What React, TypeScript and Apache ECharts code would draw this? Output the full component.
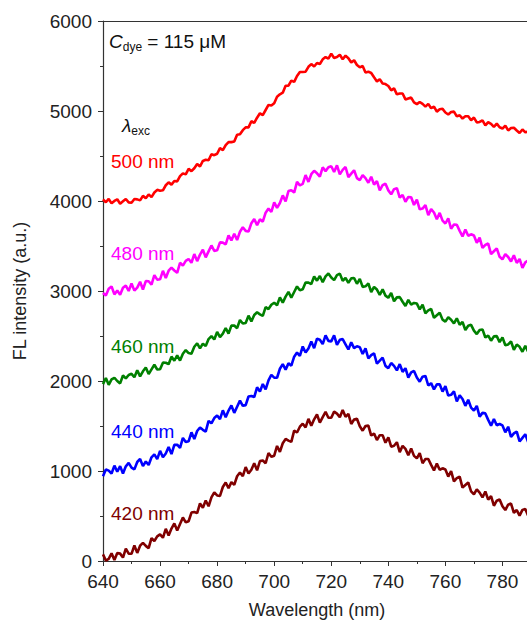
import React, { useEffect, useRef } from "react";
import * as echarts from "echarts";

const wavelengthStart = 640;
const xTicks = [640, 660, 680, 700, 720, 740, 760, 780];
const yTicks = [0, 1000, 2000, 3000, 4000, 5000, 6000];

const seriesNames = ["500 nm", "480 nm", "460 nm", "440 nm", "420 nm"];
const seriesColors = ["#ff0000", "#ff00ff", "#008000", "#0000ff", "#800000"];

const exc500 = [
  4018, 3986, 4023, 3974, 4001, 4019, 3970, 3996, 4022, 3985,
  3981, 4022, 4018, 4007, 4057, 4031, 4073, 4043, 4094, 4124,
  4114, 4119, 4175, 4207, 4182, 4223, 4218, 4276, 4307, 4296,
  4357, 4332, 4364, 4411, 4383, 4445, 4458, 4453, 4520, 4509,
  4525, 4588, 4564, 4621, 4654, 4654, 4661, 4737, 4741, 4787,
  4818, 4818, 4887, 4869, 4926, 4974, 4955, 5011, 5067, 5060,
  5086, 5158, 5185, 5203, 5281, 5281, 5338, 5323, 5389, 5434,
  5434, 5437, 5491, 5521, 5494, 5533, 5522, 5574, 5599, 5582,
  5637, 5590, 5600, 5625, 5575, 5615, 5586, 5539, 5564, 5511,
  5485, 5500, 5428, 5437, 5422, 5374, 5329, 5353, 5305, 5299,
  5278, 5230, 5251, 5185, 5194, 5194, 5129, 5139, 5149, 5096,
  5076, 5100, 5079, 5049, 5079, 5031, 5048, 4993, 5019, 5024,
  4984, 4961, 4989, 4993, 4940, 4953, 4916, 4942, 4941, 4898,
  4927, 4874, 4878, 4897, 4841, 4875, 4858, 4823, 4860, 4819,
  4805, 4838, 4784, 4811, 4814, 4784, 4755, 4795, 4763, 4773,
];

const exc480 = [
  2978, 2950, 3024, 3050, 2962, 3006, 2958, 3036, 3060, 3000,
  3084, 3004, 3038, 3102, 3016, 3110, 3108, 3070, 3176, 3126,
  3130, 3224, 3144, 3226, 3260, 3228, 3202, 3314, 3282, 3334,
  3356, 3314, 3410, 3332, 3404, 3458, 3374, 3440, 3506, 3446,
  3452, 3540, 3538, 3518, 3618, 3562, 3636, 3566, 3658, 3708,
  3668, 3660, 3754, 3800, 3732, 3796, 3770, 3870, 3916, 3878,
  3984, 3924, 3978, 4062, 3996, 4110, 4120, 4094, 4212, 4174,
  4190, 4288, 4212, 4298, 4336, 4308, 4272, 4374, 4332, 4374,
  4386, 4322, 4396, 4296, 4346, 4378, 4266, 4304, 4342, 4254,
  4232, 4288, 4254, 4202, 4270, 4182, 4222, 4118, 4176, 4192,
  4118, 4074, 4132, 4142, 4038, 4066, 3992, 4044, 4042, 3956,
  4014, 3908, 3916, 3954, 3842, 3910, 3872, 3798, 3868, 3782,
  3750, 3808, 3692, 3738, 3736, 3668, 3606, 3682, 3614, 3630,
  3616, 3536, 3594, 3478, 3512, 3528, 3410, 3442, 3474, 3380,
  3352, 3410, 3378, 3328, 3398, 3312, 3356, 3256, 3318, 3338,
];

const exc460 = [
  1965, 2034, 1958, 2017, 2036, 2000, 1973, 2061, 2029, 2067,
  2080, 2042, 2119, 2051, 2108, 2150, 2077, 2129, 2181, 2128,
  2130, 2204, 2203, 2187, 2271, 2225, 2286, 2227, 2303, 2344,
  2310, 2303, 2381, 2419, 2362, 2415, 2388, 2466, 2499, 2462,
  2545, 2488, 2526, 2589, 2527, 2615, 2616, 2587, 2678, 2639,
  2645, 2726, 2662, 2733, 2764, 2740, 2723, 2821, 2799, 2847,
  2870, 2842, 2929, 2871, 2938, 2990, 2927, 2989, 3051, 3008,
  3020, 3094, 3093, 3077, 3161, 3115, 3166, 3097, 3163, 3194,
  3150, 3121, 3177, 3193, 3114, 3145, 3090, 3140, 3145, 3080,
  3135, 3046, 3052, 3083, 2989, 3045, 3016, 2957, 3018, 2949,
  2925, 2978, 2886, 2929, 2932, 2880, 2833, 2901, 2849, 2867,
  2860, 2796, 2847, 2753, 2784, 2800, 2703, 2731, 2759, 2682,
  2660, 2708, 2681, 2639, 2697, 2625, 2656, 2567, 2613, 2624,
  2560, 2521, 2567, 2573, 2484, 2505, 2448, 2496, 2499, 2432,
  2485, 2398, 2406, 2439, 2347, 2405, 2380, 2325, 2390, 2325,
];

const exc440 = [
  942, 1018, 1004, 972, 1060, 992, 1054, 972, 1052, 1090,
  1038, 1018, 1100, 1134, 1054, 1106, 1066, 1152, 1184, 1132,
  1224, 1152, 1194, 1266, 1188, 1290, 1292, 1258, 1368, 1322,
  1330, 1430, 1356, 1444, 1484, 1458, 1438, 1556, 1530, 1588,
  1616, 1576, 1674, 1598, 1672, 1728, 1646, 1714, 1782, 1724,
  1732, 1828, 1834, 1822, 1930, 1882, 1966, 1906, 2008, 2068,
  2038, 2036, 2136, 2188, 2126, 2196, 2170, 2270, 2316, 2278,
  2384, 2316, 2362, 2438, 2364, 2470, 2458, 2410, 2506, 2446,
  2440, 2508, 2402, 2458, 2466, 2408, 2350, 2430, 2366, 2386,
  2376, 2300, 2362, 2250, 2288, 2308, 2192, 2226, 2260, 2168,
  2142, 2200, 2168, 2118, 2188, 2102, 2142, 2038, 2096, 2112,
  2038, 1992, 2048, 2056, 1950, 1976, 1906, 1962, 1964, 1882,
  1944, 1838, 1846, 1884, 1772, 1840, 1800, 1724, 1792, 1704,
  1670, 1724, 1604, 1646, 1640, 1568, 1504, 1578, 1508, 1522,
  1506, 1430, 1492, 1380, 1418, 1438, 1328, 1368, 1408, 1322,
];

const exc420 = [
  74, 5, 24, 86, 10, 90, 82, 38, 138, 82,
  80, 172, 90, 170, 202, 168, 142, 254, 222, 274,
  296, 258, 358, 284, 360, 418, 340, 412, 484, 430,
  442, 538, 544, 532, 640, 592, 672, 608, 706, 762,
  728, 724, 822, 872, 808, 876, 846, 942, 984, 942,
  1044, 972, 1014, 1086, 1008, 1110, 1116, 1086, 1200, 1158,
  1170, 1278, 1212, 1308, 1356, 1338, 1324, 1448, 1428, 1492,
  1526, 1484, 1580, 1502, 1574, 1628, 1538, 1598, 1658, 1592,
  1592, 1660, 1638, 1598, 1678, 1602, 1634, 1522, 1572, 1580,
  1498, 1448, 1500, 1504, 1394, 1416, 1344, 1398, 1398, 1314,
  1374, 1270, 1280, 1320, 1210, 1280, 1246, 1176, 1250, 1168,
  1140, 1200, 1086, 1134, 1134, 1068, 1006, 1082, 1014, 1030,
  1016, 938, 998, 884, 920, 938, 816, 844, 872, 774,
  742, 796, 760, 706, 772, 682, 720, 614, 670, 684,
  608, 566, 626, 638, 536, 566, 504, 568, 578, 504,
];

const allSeries = [exc500, exc480, exc460, exc440, exc420];

const FONT = "'Liberation Sans', Arial, Helvetica, sans-serif";

export default function App() {
  const ref = useRef<HTMLDivElement>(null);
  useEffect(() => {
    if (!ref.current) return;
    const chart = echarts.init(ref.current, null, { renderer: "svg" });
    const labelY = [162, 254, 347, 432, 514];
    chart.setOption({
      animation: false,
      backgroundColor: "#ffffff",
      textStyle: { fontFamily: FONT },
      grid: {
        left: 103,
        top: 21,
        width: 428,
        height: 540,
        containLabel: false,
        outerBoundsMode: "none",
      },
      xAxis: [
        {
          type: "value",
          min: 640,
          max: 790,
          interval: 20,
          name: "Wavelength (nm)",
          nameLocation: "middle",
          nameGap: 40,
          nameTextStyle: { fontSize: 18, color: "#222", fontFamily: FONT },
          axisLine: { show: true, lineStyle: { color: "#333", width: 1.2 } },
          axisTick: { show: true, inside: false, length: 5, lineStyle: { color: "#333" } },
          minorTick: { show: true, splitNumber: 2, length: 3, lineStyle: { color: "#333" } },
          splitLine: { show: false },
          axisLabel: {
            fontSize: 19,
            color: "#222",
            margin: 11,
            fontFamily: FONT,
            formatter: (v: number) => (xTicks.includes(v) ? String(v) : ""),
          },
        },
        {
          type: "value",
          position: "top",
          min: 640,
          max: 790,
          axisLine: { show: true, lineStyle: { color: "#333", width: 1.2 } },
          axisTick: { show: false },
          axisLabel: { show: false },
          splitLine: { show: false },
        },
      ],
      yAxis: {
        type: "value",
        min: 0,
        max: 6000,
        interval: 1000,
        name: "FL intensity (a.u.)",
        nameLocation: "middle",
        nameGap: 74,
        nameTextStyle: { fontSize: 18, color: "#222", fontFamily: FONT },
        axisLine: { show: true, lineStyle: { color: "#333", width: 1.2 } },
        axisTick: { show: true, inside: false, length: 5, lineStyle: { color: "#333" } },
        minorTick: { show: true, splitNumber: 2, length: 3, lineStyle: { color: "#333" } },
        splitLine: { show: false },
        axisLabel: {
          fontSize: 19,
          color: "#222",
          margin: 11,
          fontFamily: FONT,
          formatter: (v: number) => (yTicks.includes(v) ? String(v) : ""),
        },
      },
      series: allSeries.map((vals, i) => ({
        name: seriesNames[i],
        type: "line",
        showSymbol: false,
        symbol: "none",
        clip: true,
        lineStyle: { color: seriesColors[i], width: 2.6 },
        data: vals.map((v, j) => [wavelengthStart + j, v]),
      })),
      graphic: [
        {
          type: "text",
          left: 109,
          top: 32,
          style: {
            text: "{i|C}{sub|dye}{n| = 115 μM}",
            rich: {
              i: { fontSize: 19, fontStyle: "italic", fill: "#111", fontFamily: FONT },
              sub: { fontSize: 12, fill: "#111", fontFamily: FONT, padding: [10, 0, 0, 0] },
              n: { fontSize: 19, fill: "#111", fontFamily: FONT },
            },
          },
        },
        {
          type: "text",
          left: 122,
          top: 116,
          style: {
            text: "{i|λ}{sub|exc}",
            rich: {
              i: { fontSize: 19, fontStyle: "italic", fill: "#111", fontFamily: FONT },
              sub: { fontSize: 12, fill: "#111", fontFamily: FONT, padding: [10, 0, 0, 0] },
            },
          },
        },
        ...seriesNames.map((n, i) => ({
          type: "text",
          left: 111,
          top: labelY[i] - 10,
          style: { text: n, fontSize: 19, fill: seriesColors[i], fontFamily: FONT },
        })),
      ],
    });
    return () => chart.dispose();
  }, []);
  return (
    <div
      ref={ref}
      style={{ position: "fixed", left: 0, top: 0, width: 527, height: 623, background: "#fff" }}
    />
  );
}
